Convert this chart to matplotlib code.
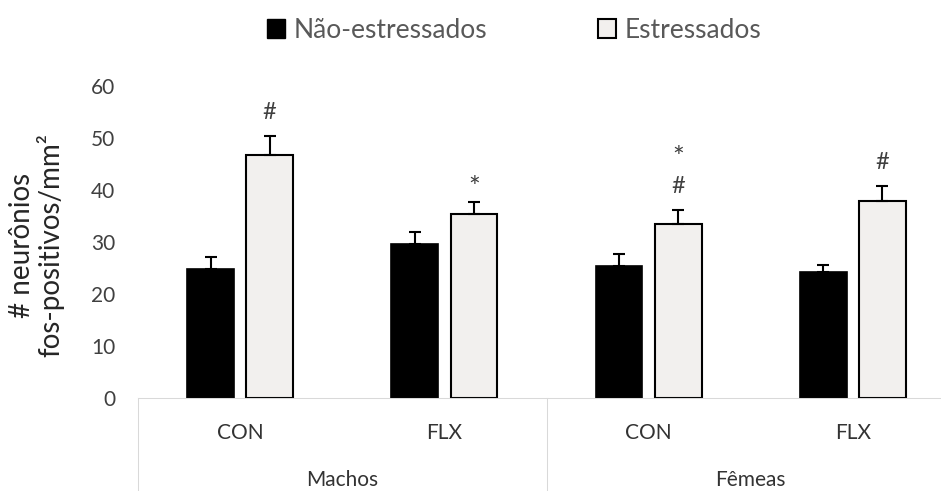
import numpy as np
import matplotlib.pyplot as plt
from matplotlib.patches import Patch
from matplotlib.transforms import blended_transform_factory

plt.rcParams['font.family'] = ['Lato', 'DejaVu Sans']

# === Data ===
groups = ["Machos", "Fêmeas"]
treatments = ["CON", "FLX", "CON", "FLX"]
series_names = ["Não-estressados", "Estressados"]

nao_estressados = [24.8, 29.6, 25.3, 24.2]
nao_estressados_err = [2.3, 2.4, 2.4, 1.4]
estressados = [46.8, 35.4, 33.5, 37.9]
estressados_err = [3.6, 2.3, 2.7, 2.9]

# significance marks above the stressed bars, listed bottom to top
marks = [["#"], ["*"], ["#", "*"], ["#"]]

# === Style ===
light = '#f2f0ee'
axis_gray = '#d9d9d9'
mark_base = {'#': 12.0, '*': 3.9}   # baseline offset (pt) above the error cap
mark_size = {'#': 17, '*': 20}
row_step = 18.5

# === Figure ===
fig = plt.figure(figsize=(9.41, 4.91), dpi=100)
ax = fig.add_axes([138 / 941, 1 - 398 / 491, 817 / 941, 312 / 491])

x = np.arange(len(treatments))
w = 0.23
off = 0.145

ax.bar(x - off, nao_estressados, w, color='black', edgecolor='black', linewidth=1.2, zorder=2)
ax.bar(x + off, estressados, w, color=light, edgecolor='black', linewidth=1.5, zorder=2)

ax.errorbar(x - off, nao_estressados, yerr=[np.zeros(len(x)), nao_estressados_err],
            fmt='none', ecolor='black', elinewidth=1.5, capsize=4.3, capthick=1.5, zorder=3)
ax.errorbar(x + off, estressados, yerr=[np.zeros(len(x)), estressados_err],
            fmt='none', ecolor='black', elinewidth=1.5, capsize=4.3, capthick=1.5, zorder=3)

for xi, yi, ei, ms in zip(x + off, estressados, estressados_err, marks):
    for row, m in enumerate(ms):
        y_off = mark_base[ms[0]] + row_step * row if row else mark_base[m]
        ax.annotate(m, (xi, yi + ei), xytext=(0, y_off),
                    textcoords='offset points', ha='center', va='baseline',
                    fontsize=mark_size[m], color='#404040')

# === Axes ===
ax.set_xlim(-0.5, len(x) - 0.5)
ax.set_ylim(0, 60)
ax.set_yticks(np.arange(0, 61, 10))
ax.set_xticks(x)
ax.set_xticklabels(treatments)
ax.tick_params(axis='y', length=0, pad=16.5, labelsize=15, labelcolor='#404040')
ax.tick_params(axis='x', length=0, pad=18, labelsize=15, labelcolor='#333333')
for s in ['top', 'right', 'left']:
    ax.spines[s].set_visible(False)
ax.spines['bottom'].set_color(axis_gray)
ax.spines['bottom'].set_linewidth(0.75)

# group separators and group names under the category labels
trans = blended_transform_factory(ax.transData, ax.transAxes)
for xs in [-0.5, 1.5, 3.5]:
    ax.plot([xs, xs], [0, -0.31], transform=trans, color=axis_gray, lw=0.75, clip_on=False)
for i, g in enumerate(groups):
    ax.text(2 * i + 0.5, -0.281, g, transform=trans, ha='center', va='baseline',
            fontsize=15, color='#333333')

fig.text(37 / 941, 1 - 245 / 491, "# neurônios\nfos-positivos/mm²", rotation=90,
         ha='center', va='center', multialignment='center', fontsize=20,
         linespacing=1.05, color='#262626')

# === Legend ===
handles = [Patch(facecolor='black', edgecolor='black'),
           Patch(facecolor=light, edgecolor='black', linewidth=1.5)]
fig.legend(handles, series_names, loc='center', bbox_to_anchor=(514 / 941, 1 - 30 / 491),
           ncol=2, frameon=False, fontsize=19, handlelength=0.7, handleheight=0.7,
           handletextpad=0.3, columnspacing=4.2, labelcolor='#595959')

fig.savefig('out.png', dpi=100)
